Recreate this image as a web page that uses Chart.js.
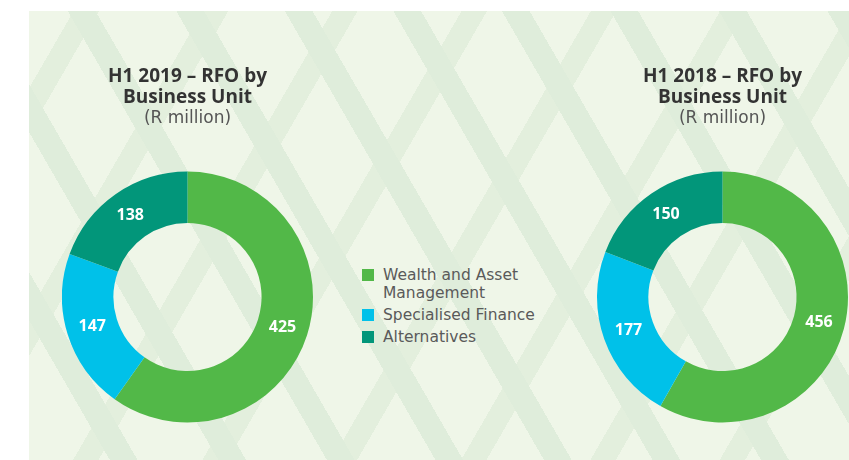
<!DOCTYPE html>
<html lang="en">
<head>
<meta charset="utf-8" />
<title>RFO by Business Unit</title>
<script src="https://cdn.jsdelivr.net/npm/chart.js"></script>
<style>
  html, body { margin: 0; padding: 0; background: #ffffff; }
  body { width: 849px; height: 460px; position: relative; overflow: hidden; }
  .panel {
    position: absolute; left: 29px; top: 11px; width: 820px; height: 449px;
    background-color: #eff6e8;
    background-image:
      repeating-linear-gradient(60deg, transparent 0 70px, #dfeddb 70px 94px),
      repeating-linear-gradient(-60deg, transparent 0 90px, #e3efdd 90px 112px);
  }
  canvas { position: absolute; }
  #chart2019 { left: 62px; top: 65px; }
  #chart2018 { left: 597px; top: 65px; }
  .legend {
    position: absolute; left: 362px; top: 266px; width: 190px;
    font-family: "DejaVu Sans", sans-serif; font-size: 15.5px; font-weight: normal;
    line-height: 18px; color: #5a5a5a;
  }
  .legend .item { position: relative; padding-left: 21px; margin-bottom: 4px; }
  .legend .box { position: absolute; left: 0; top: 3px; width: 12px; height: 12px; }
</style>
</head>
<body>
<div class="panel"></div>
<canvas id="chart2019" width="251" height="389"></canvas>
<canvas id="chart2018" width="251" height="389"></canvas>
<div class="legend" id="legend"></div>

<script>
  // data
  const units = ['Wealth and Asset Management', 'Specialised Finance', 'Alternatives'];
  const rfo2019 = [425, 147, 138];
  const rfo2018 = [456, 177, 150];
  const unitColors = ['#52b848', '#00c1e9', '#02967a'];

  // white value labels in the middle of each ring segment
  const valueLabels = {
    id: 'valueLabels',
    afterDatasetsDraw(chart) {
      const ctx = chart.ctx;
      const meta = chart.getDatasetMeta(0);
      const values = chart.data.datasets[0].data;
      ctx.save();
      ctx.fillStyle = '#ffffff';
      ctx.font = 'bold 16px "Open Sans", sans-serif';
      ctx.textAlign = 'center';
      ctx.textBaseline = 'middle';
      meta.data.forEach(function (arc, i) {
        const pos = arc.tooltipPosition();
        ctx.fillText(String(values[i]), pos.x, pos.y);
      });
      ctx.restore();
    }
  };

  function makeDonut(id, year, values) {
    const ctx = document.getElementById(id);
    return new Chart(ctx, {
      type: 'doughnut',
      data: {
        labels: units,
        datasets: [{
          data: values,
          backgroundColor: unitColors,
          borderWidth: 0
        }]
      },
      options: {
        responsive: false,
        animation: false,
        cutout: '59%',
        layout: { padding: 0 },
        plugins: {
          legend: { display: false },
          tooltip: { enabled: false },
          title: {
            display: true,
            text: ['H1 ' + year + ' \u2013 RFO by', 'Business Unit'],
            color: '#333333',
            font: { family: '"Open Sans", sans-serif', size: 19, weight: 'bold', lineHeight: 1.105 },
            padding: { top: 1, bottom: 0 }
          },
          subtitle: {
            display: true,
            text: '(R million)',
            color: '#555555',
            font: { family: '"DejaVu Sans", sans-serif', size: 17, weight: 'normal', lineHeight: 1.294 },
            padding: { top: 0, bottom: 10 }
          }
        }
      },
      plugins: [valueLabels]
    });
  }

  makeDonut('chart2019', 2019, rfo2019);
  makeDonut('chart2018', 2018, rfo2018);

  // legend
  const legend = document.getElementById('legend');
  units.forEach(function (name, i) {
    const item = document.createElement('div');
    item.className = 'item';
    const box = document.createElement('span');
    box.className = 'box';
    box.style.background = unitColors[i];
    item.appendChild(box);
    item.appendChild(document.createTextNode(name));
    legend.appendChild(item);
  });
</script>
</body>
</html>
